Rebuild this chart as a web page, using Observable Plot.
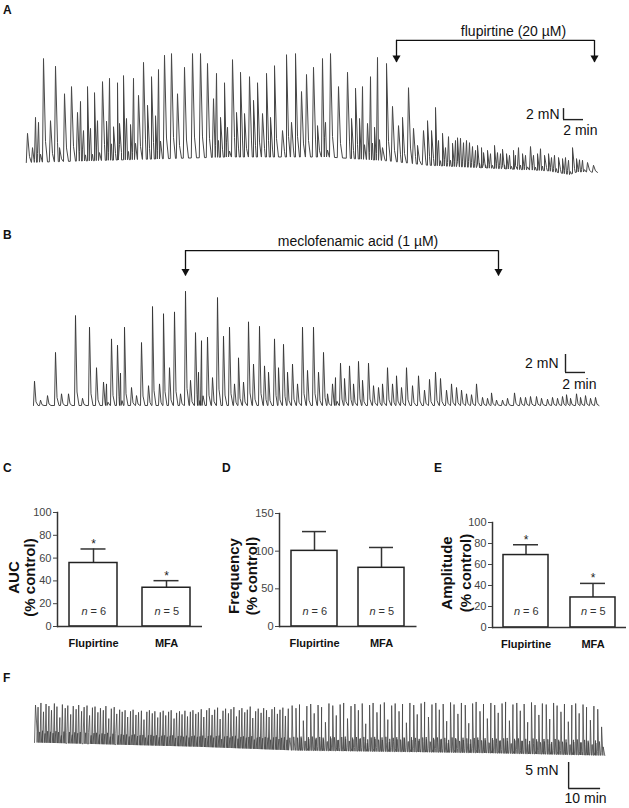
<!DOCTYPE html>
<html><head><meta charset="utf-8">
<script src="https://cdn.jsdelivr.net/npm/d3@7"></script>
<script src="https://cdn.jsdelivr.net/npm/@observablehq/plot@0.6"></script>
<style>
body{margin:0;background:#fff;}
#fig{position:relative;width:629px;height:808px;font-family:"Liberation Sans",Arial,sans-serif;overflow:hidden;background:#fff;}
#fig svg{position:absolute;}
.lab{position:absolute;font-weight:bold;font-size:12px;line-height:12px;color:#111;}
</style></head><body><div id="fig"></div>
<script>
// ---------------- DATA ----------------
// Panel A: contraction peaks [time (min), peak force (mN)] and baseline [time, force]
const aPeaks = [[0.0,5.3],[0.5,2.7],[0.8,8.2],[1.1,7.3],[1.6,18.9],[2.3,7.6],[2.8,17.5],[3.2,2.7],[3.7,12.5],[4.4,13.8],[5.0,9.1],[5.3,11.1],[5.6,5.8],[6.0,13.8],[6.3,6.2],[6.7,12.7],[7.0,7.6],[7.5,14.7],[7.9,7.5],[8.2,15.3],[8.6,6.5],[9.0,14.5],[9.2,7.1],[9.6,15.8],[9.9,8.0],[10.3,6.9],[10.6,15.3],[11.1,12.2],[11.6,18.2],[12.0,10.4],[12.4,15.6],[12.8,8.5],[13.1,16.9],[13.7,19.5],[14.4,19.8],[15.0,12.5],[15.7,17.3],[16.5,19.8],[17.3,19.8],[18.0,18.0],[18.6,11.6],[18.9,16.2],[19.3,8.2],[19.7,14.5],[20.0,6.4],[20.5,18.7],[20.9,9.1],[21.3,16.4],[21.7,8.9],[22.2,15.6],[22.6,11.3],[23.0,14.5],[23.5,8.9],[23.9,16.2],[24.3,8.2],[24.7,17.6],[25.5,5.8],[25.9,19.6],[26.4,7.3],[26.8,19.8],[27.4,12.9],[27.9,16.0],[28.6,17.3],[29.0,6.7],[29.5,18.9],[29.8,7.3],[30.3,19.8],[31.1,13.8],[32.0,16.4],[32.4,8.0],[32.8,13.5],[33.2,8.0],[33.5,13.8],[34.0,7.1],[34.3,15.6],[34.7,6.4],[35.0,19.1],[35.5,2.7],[35.9,18.0],[36.5,10.2],[37.1,6.7],
[37.5,8.2],[38.1,13.6],[38.6,6.2],[39.0,3.1],[39.6,5.8],[40.0,7.6],[40.4,5.8],[40.8,10.0],[41.1,4.0],[41.5,5.3],[41.8,2.7],[42.1,4.7],[42.5,3.5],[42.8,4.0],[43.0,4.5],[43.3,4.4],[43.6,3.6],[43.9,4.0],[44.2,3.6],[44.5,2.9],[44.8,2.2],[45.0,3.1],[45.4,2.7],[45.6,1.8],[46.0,2.2],[46.3,1.6],[46.7,3.1],[47.0,1.8],[47.3,1.6],[47.5,2.4],[47.9,1.6],[48.2,1.3],[48.6,2.2],[48.8,1.3],[49.1,2.7],[49.5,1.6],[49.8,1.3],[50.3,2.9],[50.6,1.3],[51.0,1.6],[51.3,2.5],[51.7,1.3],[52.1,1.6],[52.4,0.9],[52.7,1.3],[53.1,0.9],[53.5,0.7],[53.8,0.9],[54.1,0.4],[54.5,2.7],[54.9,0.7],[55.2,0.5],[55.5,0.4],[56.0,0.0],[56.6,-0.5]];
const aBaseline = [[0,0],[10,0.5],[20,1.0],[30,1.0],[36,0.3],[40,-0.5],[47,-1.1],[52,-1.5],[54.2,-2.2],[55,-1.7],[57,-1.8]];
const aDrugLabel = ["flupirtine (20 µM)"];
const aDrugTimes = [36.9, 56.7];
const aScaleBar = [2, 2]; // [min, mN]

// Panel B
const bPeaks = [[0.6,2.7],[1.2,0.6],[1.9,1.1],[2.7,5.9],[3.3,1.3],[4.0,1.3],[4.7,10.0],[5.4,0.8],[6.1,8.7],[6.8,4.2],[7.5,2.6],[7.8,2.4],[8.3,7.4],[8.9,6.7],[9.2,3.6],[9.6,8.7],[10.3,2.0],[10.8,1.1],[11.3,7.0],[12.0,2.2],[12.4,11.0],[13.1,2.4],[13.5,10.2],[14.1,4.2],[14.6,10.4],[15.2,1.3],[15.7,12.7],[16.2,2.8],[16.7,8.1],[17.0,3.7],[17.3,7.2],[17.9,7.6],[18.4,3.1],[18.9,12.0],[19.5,7.7],[20.1,8.7],[20.6,2.4],[21.0,5.3],[21.5,2.6],[22.0,9.3],[22.5,4.6],[23.1,8.8],[23.6,4.4],[24.0,3.7],[24.6,7.4],[25.0,4.2],[25.5,6.8],[25.9,3.7],[26.4,4.6],[26.9,2.4],[27.4,8.7],[27.9,3.9],[28.5,8.7],[29.0,3.7],[29.5,5.9],[29.9,1.3],[30.4,2.4],[30.7,3.1],[31.2,4.7],[31.6,3.0],[32.1,4.4],[32.5,2.4],[33.0,4.9],[33.4,2.8],[34.0,4.7],[34.5,2.2],[35.0,2.0],[35.4,2.4],[35.9,4.2],[36.4,2.4],[36.8,3.3],[37.3,2.0],[37.8,4.2],[38.4,2.2],[39.0,3.3],[39.6,1.7],[40.1,2.9],[40.7,3.7],[41.2,3.0],[41.8,1.7],[42.3,2.4],[42.8,2.0],[43.3,1.7],[43.8,1.3],[44.3,1.2],[44.8,2.4],[45.4,0.9],[45.9,0.8],[46.3,1.4],[46.8,0.6],[47.4,0.6],[47.9,0.8],[48.6,1.4],[49.2,0.9],[49.7,0.9],[50.2,1.0],[50.8,1.0],[51.3,0.8],[51.9,0.7],[52.4,0.9],[52.9,0.8],[53.4,1.0],[53.8,1.2],[54.2,0.8],[54.8,1.3],[55.2,0.9],[55.7,1.1],[56.2,0.8],[56.7,0.9]];
const bBaseline = [[0,0],[57,0]];
const bDrugLabel = ["meclofenamic acid (1 µM)"];
const bDrugTimes = [15.7, 47.0];
const bScaleBar = [2, 2];

// Panel F (long recording): large contractions and small intervening ones
const fPeaks = [[0,7.2],[0.8,6.8],[1.7,7.6],[2.5,5.9],[3.3,7.4],[4.2,7.0],[5.0,6.2],[5.9,7.5],[6.7,6.9],[7.6,4.8],[8.4,7.3],[9.3,6.6],[10.1,7.1],[11.0,5.4],[11.8,7.0],[12.7,6.4],[13.5,7.2],[14.4,6.0],[15.2,6.8],[16.1,7.1],[16.9,5.2],[17.8,6.7],[18.6,6.9],[19.5,5.8],[20.3,6.6],[21.2,6.2],[22.0,7.0],[22.9,4.6],[23.7,6.5],[24.6,6.8],[25.4,5.5],
[26.3,6.3],[27.1,5.9],[28.0,6.2],[28.8,4.9],[29.7,6.0],[30.5,6.3],[31.4,5.3],[32.2,5.8],[33.1,6.1],[33.9,4.4],[34.8,5.9],[35.6,6.2],[36.5,5.6],[37.3,6.0],[38.2,4.8],[39.0,5.8],[39.9,6.1],[40.7,5.2],[41.6,5.9],[42.4,6.2],[43.3,4.6],[44.1,5.7],[45.0,6.0],[45.8,5.4],[46.7,6.1],[47.5,5.0],[48.4,5.9],[49.2,6.2],[50.1,5.5],[50.9,5.8],
[51.8,6.4],[52.6,4.9],[53.5,6.2],[54.3,6.6],[55.2,5.3],[56.0,6.3],[56.9,6.7],[57.7,4.5],[58.6,6.1],[59.4,6.5],[60.3,5.6],[61.1,6.4],[62.0,6.8],[62.8,5.0],[63.7,6.2],[64.5,6.6],[65.4,5.8],[66.2,6.3],[67.1,6.9],[67.9,4.7],[68.8,6.0],[69.6,6.5],[70.5,5.7],[71.3,6.6],[72.2,6.2],[73.0,4.9],[73.9,6.4],[74.7,6.8],[75.6,5.5],[76.4,6.3],[77.3,6.7],[78.1,5.1],[79.0,6.5],
[80.2,7.1],[81.4,6.6],[82.5,7.3],[83.7,4.2],[84.8,7.0],[86.0,7.4],[87.1,5.6],[88.3,7.2],[89.4,6.8],[90.6,3.9],[91.7,7.5],[92.9,7.1],[94.0,5.2],[95.2,7.3],[96.3,7.6],[97.5,4.6],[98.6,7.0],[99.8,7.4],[100.9,6.2],[102.1,7.5],[103.2,3.6],[104.4,7.2],[105.5,7.6],[106.7,5.8],[107.8,7.3],[109.0,7.7],[110.1,4.4],[111.3,7.1],[112.4,7.5],[113.6,6.0],[114.7,7.4],[115.9,3.8],[117.0,7.6],[118.2,7.2],[119.3,5.4],[120.5,7.5],[121.6,7.8],[122.8,4.9],[123.9,7.3],[125.1,7.6],[126.2,6.3],[127.4,7.4],[128.5,4.1],[129.7,7.7],[130.8,7.3],[132.0,5.5],[133.1,7.6],[134.3,7.2],[135.4,3.7],[136.6,7.5],[137.7,7.8],[138.9,6.0],[140.0,7.4],[141.2,4.6],[142.3,7.6],[143.5,7.2],[144.6,5.7],[145.8,7.5],[146.9,7.8],[148.1,4.2],[149.2,7.3],[150.4,7.6],[151.5,6.1],[152.7,7.4],[153.8,3.9],[155.0,7.7],[156.1,7.2],[157.3,5.3],[158.4,7.5],[159.6,7.3],[160.7,4.5],[161.9,7.6],[163.0,7.1],[164.2,5.9],[165.3,7.4],[166.5,4.0],[167.6,7.2],[168.8,7.5],[169.9,5.6],[171.1,7.3],[172.2,6.8],[173.4,4.3],[174.5,7.0],[175.7,6.4],[176.9,3.0]];
const fMinor = [[80.8,0.6],[82.0,0.2],[83.1,0.8],[84.3,0.3],[85.4,0.7],[86.6,0.1],[87.7,0.9],[88.9,0.4],[90.0,0.6],[91.2,0.2],[92.3,0.8],[93.5,0.3],[94.6,0.5],[95.8,0.1],[96.9,0.7],[98.1,0.3],[99.2,0.6],[100.4,0.0],[101.5,0.8],[102.7,0.2],[103.8,0.6],[105.0,0.1],[106.1,0.7],[107.3,0.3],[108.4,0.5],[109.6,0.0],[110.7,0.7],[111.9,0.2],[113.0,0.6],[114.2,0.1],[115.3,0.8],[116.5,0.2],[117.6,0.5],[118.8,0.0],[119.9,0.7],[121.1,0.2],[122.2,0.6],[123.4,0.1],[124.5,0.6],[125.7,0.0],[126.8,0.7],[128.0,0.2],[129.1,0.5],[130.3,-0.1],[131.4,0.6],[132.6,0.1],[133.7,0.5],[134.9,0.0],[136.0,0.6],[137.2,-0.1],[138.3,0.5],[139.5,0.0],[140.6,0.4],[141.8,-0.1],[142.9,0.5],[144.1,-0.2],[145.2,0.4],[146.4,-0.1],[147.5,0.3],[148.7,-0.2],[149.8,0.4],[151.0,-0.1],[152.1,0.3],[153.3,-0.3],[154.4,0.3],[155.6,-0.2],[156.7,0.2],[157.9,-0.3],[159.0,0.2],[160.2,-0.2],[161.3,0.1],[162.5,-0.3],[163.6,0.2],[164.8,-0.3],[165.9,0.0],[167.1,-0.4],[168.2,0.1],[169.4,-0.3],[170.5,0.0],[171.7,-0.4],[172.8,0.0],[174.0,-0.4],[175.1,-0.1],[176.3,-0.5]];
const fBaseline = [[0,0],[50,-0.8],[80,-1.5],[140,-2.0],[178,-2.5]];
const fScaleBar = [10, 5];

// Panels C, D, E: summary bars (% control)
const groups = ["Flupirtine", "MFA"];
const nValues = [6, 5];
const aucMean = [55.7, 34.0], aucSem = [12.3, 6.2], aucSig = ["*", "*"];
const freqMean = [100.4, 77.9], freqSem = [25.6, 27.0], freqSig = ["", ""];
const ampMean = [69.0, 28.6], ampSem = [9.8, 13.4], ampSig = ["*", "*"];
const aucTicks = [0, 20, 40, 60, 80, 100];
const freqTicks = [0, 50, 100, 150];
const ampTicks = [0, 20, 40, 60, 80, 100];
const aucTitle = ["AUC", "(% control)"];
const freqTitle = ["Frequency", "(% control)"];
const ampTitle = ["Amplitude", "(% control)"];

// ---------------- DRAWING ----------------
const FONT = '"Liberation Sans", Arial, Helvetica, sans-serif';
const fig = document.getElementById("fig");
function place(el, left, top) { el.style.left = left + "px"; el.style.top = top + "px"; fig.appendChild(el); }
function letter(t, left, top) { const d = document.createElement("div"); d.className = "lab"; d.textContent = t; d.style.left = left + "px"; d.style.top = top + "px"; fig.appendChild(d); }

function buildTrace(peaks, baseline, rise, f1, f2, frac) {
  const base = d3.scaleLinear().domain(baseline.map(d => d[0])).range(baseline.map(d => d[1])).clamp(true);
  const pts = [];
  for (const [t, v] of peaks) {
    const b = base(t);
    pts.push({t: t - rise, v: base(t - rise)});
    pts.push({t, v});
    pts.push({t: t + f1, v: b + frac * (v - b)});
    pts.push({t: t + f2, v: base(t + f2)});
  }
  return pts.sort((a, b) => a.t - b.t);
}

function tracePanel({peaks, baseline, shape, xDomain, yDomain, height, stroke, strokeWidth, drug, drugTimes, bracket, labelDx, bar, barPos, barText}) {
  const trace = buildTrace(peaks, baseline, ...shape);
  const marks = [Plot.line(trace, {x: "t", y: "v", stroke, strokeWidth, strokeLinejoin: "round"})];
  if (drug) {
    marks.push(
      Plot.ruleY([bracket.level], {x1: drugTimes[0], x2: drugTimes[1], stroke: "#111", strokeWidth: 1.3}),
      Plot.ruleX(drugTimes, {x: d => d, y1: bracket.level, y2: bracket.tip, stroke: "#111", strokeWidth: 1.3}),
      Plot.dot(drugTimes, {x: d => d, y: bracket.tip, symbol: "triangle", rotate: 180, r: 3, fill: "#111", stroke: null, dy: -4.5}),
      Plot.text(drug, {x: (drugTimes[0] + drugTimes[1]) / 2, y: bracket.level, dx: labelDx, dy: -9, fontSize: 14, fill: "#111"})
    );
  }
  const [dt, dv] = bar;
  const [t0, v0] = barPos;
  marks.push(
    Plot.ruleX([t0], {x: d => d, y1: v0, y2: v0 + dv, stroke: "#222", strokeWidth: 1.4}),
    Plot.ruleY([v0], {y: d => d, x1: t0, x2: t0 + dt, stroke: "#222", strokeWidth: 1.4}),
    Plot.text([`${dv} mN`], {x: t0, y: v0 + dv / 2, dx: barText.mdx, dy: barText.mdy, textAnchor: "end", fontSize: 14, fill: "#111"}),
    Plot.text([`${dt} min`], {x: t0 + dt, y: v0, dx: barText.tdx, dy: barText.tdy, textAnchor: "end", fontSize: 14, fill: "#111"})
  );
  return Plot.plot({
    width: 629, height, margin: 0,
    x: {domain: xDomain, range: [0, 629], axis: null},
    y: {domain: yDomain, range: [height, 0], axis: null},
    style: {fontFamily: FONT, background: "transparent", overflow: "visible"},
    marks
  });
}

// Panel A
place(tracePanel({
  peaks: aPeaks, baseline: aBaseline, shape: [0.12, 0.2, 0.4, 0.2],
  xDomain: [-2.7, 60.2], yDomain: [-18 / 5.5, 162 / 5.5], height: 180,
  stroke: "#484848", strokeWidth: 1,
  drug: aDrugLabel, drugTimes: aDrugTimes, bracket: {level: 22.2, tip: 18.2}, labelDx: 18,
  bar: aScaleBar, barPos: [53.6, 7.8], barText: {mdx: -4, mdy: 0, tdx: 14, tdy: 11}
}), 0, 0);

// Panel B
place(tracePanel({
  peaks: bPeaks, baseline: bBaseline, shape: [0.1, 0.15, 0.35, 0.15],
  xDomain: [-2.8, 60.1], yDomain: [-15 / 9, 185 / 9], height: 200,
  stroke: "#333", strokeWidth: 0.9,
  drug: bDrugLabel, drugTimes: bDrugTimes, bracket: {level: 17.2, tip: 14.4}, labelDx: 16,
  bar: bScaleBar, barPos: [53.7, 3.67], barText: {mdx: -7, mdy: 0, tdx: 11, tdy: 12}
}), 0, 220);

// Panel F
place(tracePanel({
  peaks: fPeaks.concat(fMinor), baseline: fBaseline, shape: [0.3, 0.5, 1.0, 0.3],
  xDomain: [-35 / 3.2, 594 / 3.2], yDomain: [-66 / 5.2, 82 / 5.2], height: 148,
  stroke: "#444", strokeWidth: 0.8,
  bar: fScaleBar, barPos: [166.6, -8.85], barText: {mdx: -10, mdy: -5, tdx: 6, tdy: 10}
}), 0, 660);

function barChart({mean, sem, sig, ticks, ymax, title, width, height, mL, mR, mT, mB, pInner, pOuter, capInset, tdx1, tdx2, tdy, nDy}) {
  const rows = groups.map((g, i) => ({g, m: mean[i], e: sem[i], s: sig[i], n: nValues[i]}));
  const titleStyle = {frameAnchor: "left", textAnchor: "middle", lineAnchor: "middle", dy: tdy, rotate: -90, fontSize: 15, fontWeight: "bold", fill: "#111"};
  return Plot.plot({
    width, height, marginLeft: mL, marginRight: mR, marginTop: mT, marginBottom: mB,
    x: {domain: groups, paddingInner: pInner, paddingOuter: pOuter, axis: null},
    y: {domain: [0, ymax], axis: null},
    style: {fontFamily: FONT, background: "transparent", overflow: "visible"},
    marks: [
      Plot.ruleX(rows, {x: "g", y1: "m", y2: d => d.m + d.e, stroke: "#333", strokeWidth: 1.5}),
      Plot.tickY(rows, {x: "g", y: d => d.m + d.e, insetLeft: capInset, insetRight: capInset, stroke: "#333", strokeWidth: 1.5}),
      Plot.barY(rows, {x: "g", y: "m", fill: "white", stroke: "#222", strokeWidth: 1.5}),
      Plot.text(rows, {x: "g", y: d => d.m + d.e, text: "s", dy: -5, fontSize: 12, fill: "#222"}),
      Plot.text(rows, {x: "g", text: () => "n", frameAnchor: "bottom", dy: nDy, dx: -6, textAnchor: "end", fontStyle: "italic", fontSize: 11, fill: "#333"}),
      Plot.text(rows, {x: "g", text: d => "= " + d.n, frameAnchor: "bottom", dy: nDy, dx: -3, textAnchor: "start", fontSize: 11, fill: "#333"}),
      Plot.ruleY([0], {stroke: "#333", strokeWidth: 1.5}),
      Plot.frame({anchor: "left", stroke: "#333", strokeWidth: 1.5}),
      Plot.axisY({ticks, tickSize: 4, tickPadding: 2, fontSize: 11, color: "#444", label: null}),
      Plot.axisX({tickSize: 0, tickPadding: 13, fontSize: 11, fontWeight: "bold", color: "#111", label: null}),
      Plot.text([title[0]], {...titleStyle, dx: tdx1}),
      Plot.text([title[1]], {...titleStyle, dx: tdx2})
    ]
  });
}

place(barChart({mean: aucMean, sem: aucSem, sig: aucSig, ticks: aucTicks, ymax: 100, title: aucTitle,
  width: 210, height: 175, mL: 57, mR: 8, mT: 22, mB: 39, pInner: 0.342, pOuter: 0.164, capInset: 11.5, tdx1: -43, tdx2: -27, tdy: 8, nDy: -12}), 0, 490);
place(barChart({mean: freqMean, sem: freqSem, sig: freqSig, ticks: freqTicks, ymax: 150, title: freqTitle,
  width: 220, height: 175, mL: 79, mR: 3.5, mT: 23, mB: 39, pInner: 0.306, pOuter: 0.179, capInset: 11, tdx1: -45, tdx2: -27, tdy: 6, nDy: -12}), 200, 490);
place(barChart({mean: ampMean, sem: ampSem, sig: ampSig, ticks: ampTicks, ymax: 100, title: ampTitle,
  width: 219, height: 175, mL: 82, mR: 3, mT: 32, mB: 38, pInner: 0.328, pOuter: 0.164, capInset: 10, tdx1: -45, tdx2: -26, tdy: -2, nDy: -13}), 410, 490);

letter("A", 3, 4);
letter("B", 3, 229);
letter("C", 3, 462);
letter("D", 222, 462);
letter("E", 434, 462);
letter("F", 3, 672);
</script>
</body></html>
